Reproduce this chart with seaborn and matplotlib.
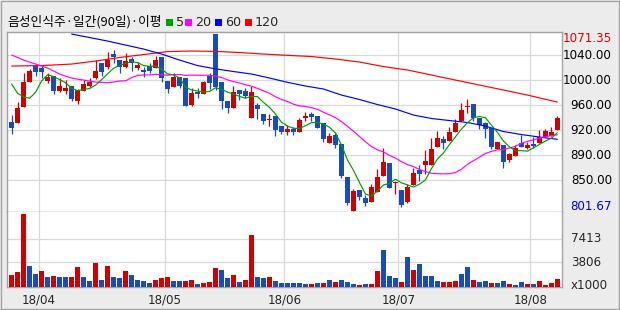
import numpy as np
import pandas as pd
import matplotlib
matplotlib.use("Agg")
import matplotlib.pyplot as plt
import seaborn as sns
from matplotlib.patches import Rectangle

# ---------------- data ----------------
title = "음성인식주·일간(90일)·이평"
ma_names = ["5", "20", "60", "120"]

opens = [937.0, 936.0, 960.4, 998.5, 1022.5, 1019.4, 999.6, 1007.7, 984.3, 984.3,
         992.0, 969.5, 984.8, 992.0, 1004.6, 1027.1, 1021.4, 1040.8, 1031.6, 1021.4,
         1032.7, 1019.9, 1016.4, 1022.5, 1019.9, 1036.7, 1000.1, 990.9, 1006.2, 1004.6,
         963.0, 983.3, 980.2, 1007.2, 1071.3, 998.5, 969.5, 958.8, 985.9, 984.3,
         943.6, 963.0, 949.2, 939.6, 946.2, 930.9, 921.3, 926.8, 922.2, 943.6,
         949.2, 946.2, 935.0, 905.4, 917.2, 903.5, 853.6, 801.7, 833.3, 821.5,
         815.4, 830.7, 855.1, 874.0, 843.5, 833.3, 815.4, 840.4, 863.8, 871.4,
         871.4, 899.3, 911.1, 908.0, 922.2, 939.0, 959.5, 964.5, 943.6, 935.0,
         927.4, 895.8, 901.9, 879.0, 885.1, 905.4, 896.9, 903.5, 904.5, 914.6,
         915.7, 924.8]
highs = [947.7, 967.5, 1012.3, 1017.9, 1022.5, 1024.5, 1012.3, 1007.7, 1004.2, 1000.7,
         992.0, 987.8, 1001.1, 1004.2, 1031.6, 1027.1, 1043.4, 1046.9, 1031.6, 1041.9,
         1036.7, 1028.6, 1020.5, 1026.6, 1037.7, 1036.7, 1000.1, 1011.3, 1006.2, 1004.6,
         988.9, 988.5, 1000.1, 1011.3, 1071.35, 998.5, 969.5, 992.0, 985.9, 988.5,
         992.0, 966.5, 949.2, 949.2, 946.2, 930.9, 932.4, 929.9, 942.7, 952.3,
         952.3, 946.2, 935.0, 919.8, 919.8, 903.5, 853.6, 834.3, 833.3, 825.6,
         842.4, 864.8, 897.8, 874.0, 847.5, 833.3, 842.4, 866.4, 871.4, 894.3,
         912.1, 923.3, 915.7, 929.4, 941.1, 966.5, 972.1, 964.5, 943.6, 937.5,
         927.4, 906.0, 901.9, 890.2, 901.5, 917.2, 907.0, 913.7, 924.8, 925.9,
         929.9, 946.2]
lows = [919.2, 936.0, 960.4, 998.5, 1007.7, 1004.6, 997.0, 980.2, 982.8, 979.3,
        969.5, 964.5, 984.8, 990.9, 1003.1, 1007.7, 1017.9, 1027.5, 1012.3, 1019.9,
        1015.3, 1016.4, 1005.2, 1011.3, 1019.9, 998.5, 981.7, 990.9, 989.4, 961.9,
        961.9, 974.1, 980.2, 987.4, 985.9, 957.3, 951.2, 958.8, 970.6, 973.2,
        943.6, 942.1, 934.4, 931.4, 916.1, 919.2, 917.2, 917.2, 922.2, 939.0,
        939.0, 927.4, 907.0, 904.5, 896.9, 851.1, 810.4, 801.67, 818.0, 808.8,
        815.4, 830.7, 855.1, 835.9, 827.2, 807.8, 813.0, 840.4, 847.5, 857.7,
        871.4, 899.3, 895.4, 908.0, 922.2, 939.0, 950.3, 939.0, 926.8, 912.2,
        895.4, 895.8, 867.3, 876.4, 885.1, 899.3, 895.4, 896.9, 904.5, 914.6,
        915.7, 924.8]
closes = [928.3, 958.4, 998.1, 1014.4, 1013.8, 1013.8, 1005.7, 984.3, 992.0, 988.9,
          972.6, 985.9, 995.0, 998.5, 1014.9, 1013.8, 1031.2, 1036.7, 1021.4, 1029.7,
          1026.6, 1024.5, 1013.8, 1015.3, 1031.6, 1004.6, 987.4, 1006.2, 992.4, 961.9,
          981.7, 979.8, 998.1, 997.0, 990.0, 969.5, 958.8, 982.8, 979.8, 976.7,
          982.8, 956.9, 938.6, 942.1, 924.8, 921.8, 926.8, 922.2, 940.1, 946.2,
          945.1, 927.4, 911.1, 915.7, 901.9, 854.6, 813.0, 831.7, 823.0, 813.0,
          838.3, 853.6, 876.0, 835.9, 845.0, 810.4, 838.3, 858.7, 857.7, 877.5,
          895.8, 912.1, 905.4, 921.8, 936.0, 955.3, 961.0, 942.7, 932.4, 926.8,
          899.3, 906.0, 876.4, 887.7, 897.4, 899.3, 901.9, 900.9, 914.6, 922.8,
          921.8, 942.7]

ma5 = [995.0, 980.8, 975.6, 973.2, 982.6, 999.7, 1009.2, 1006.4, 1001.9, 996.9,
       988.7, 984.7, 986.9, 988.2, 993.4, 1001.6, 1010.7, 1019.0, 1023.6, 1026.6,
       1029.1, 1027.8, 1023.2, 1022.0, 1022.4, 1018.0, 1010.5, 1009.0, 1004.4, 990.5,
       985.9, 984.4, 982.8, 983.7, 989.3, 986.9, 982.7, 979.6, 976.2, 973.5,
       976.2, 975.8, 967.0, 959.4, 949.0, 936.8, 930.8, 927.5, 927.1, 931.4,
       936.1, 936.2, 934.0, 929.1, 920.2, 902.1, 879.3, 863.4, 844.8, 827.1,
       823.8, 831.9, 840.8, 843.4, 849.8, 844.2, 841.1, 837.7, 842.0, 848.5,
       865.6, 880.4, 889.7, 902.5, 914.2, 926.1, 935.9, 943.4, 945.5, 943.6,
       932.4, 921.4, 908.2, 899.2, 893.4, 893.4, 892.5, 897.4, 902.8, 907.9,
       912.4, 920.6]
ma20 = [1039.3, 1035.5, 1031.6, 1028.5, 1025.5, 1022.5, 1019.4, 1015.0, 1010.3, 1007.0,
        1004.2, 1002.5, 1001.1, 999.5, 998.1, 997.5, 997.0, 998.0, 999.6, 999.9,
        1004.8, 1008.1, 1008.9, 1008.9, 1009.8, 1009.4, 1008.4, 1009.5, 1009.6, 1008.2,
        1008.7, 1008.4, 1008.5, 1008.4, 1007.2, 1005.0, 1001.4, 998.7, 996.6, 993.9,
        991.7, 988.4, 984.6, 980.9, 975.6, 971.5, 968.4, 964.2, 961.6, 960.8,
        959.0, 956.4, 952.0, 948.0, 943.6, 937.8, 930.5, 923.0, 915.1, 906.9,
        899.7, 894.6, 891.4, 886.1, 882.1, 876.6, 872.1, 869.0, 864.8, 861.4,
        858.9, 858.2, 857.9, 858.2, 859.9, 864.9, 872.3, 877.9, 883.3, 889.0,
        892.1, 894.7, 894.7, 897.3, 899.9, 904.4, 907.6, 909.7, 912.5, 914.8,
        916.1, 917.6]
ma60_idx = [10, 13, 16, 19, 22, 25, 28, 31, 34, 37, 40, 43, 46, 49, 52, 55, 58, 61,
            64, 67, 70, 73, 76, 79, 82, 85, 88, 91]
ma60_val = [1071.3, 1066.0, 1060.6, 1054.5, 1048.4, 1040.8, 1031.6, 1023.2, 1018.2,
            1014.1, 1010.3, 1004.2, 997.6, 992.0, 987.4, 978.2, 971.4, 963.7, 956.9,
            947.7, 942.4, 939.3, 936.3, 930.9, 922.5, 917.9, 914.1, 910.6]
ma120_idx = [0, 5, 10, 14, 18, 22, 26, 30, 34, 38, 42, 46, 50, 54, 58, 62, 66, 70,
             74, 78, 82, 86, 91]
ma120_val = [1022.5, 1023.2, 1025.5, 1030.1, 1035.5, 1040.0, 1044.6, 1045.4, 1044.9,
             1043.1, 1040.8, 1038.8, 1037.0, 1033.2, 1028.6, 1021.7, 1016.4, 1008.8,
             1001.1, 993.5, 985.9, 978.2, 967.5]

volume = [1872, 2329, 11156, 3242, 2024, 2481, 1568, 1720, 1568, 1560,
          1590, 3090, 1568, 959, 3698, 1111, 3242, 1568, 1416, 2481,
          1872, 1111, 959, 654, 1111, 1416, 1568, 959, 950, 980,
          1111, 502, 654, 807, 2937, 2633, 1416, 1872, 807, 1111,
          7960, 1568, 1416, 1568, 959, 654, 640, 620, 610, 502,
          490, 654, 640, 1111, 807, 1111, 807, 502, 350, 502,
          490, 2481, 5677, 1720, 1416, 807, 4612, 2633, 3546, 1720,
          1710, 959, 807, 800, 959, 2024, 3090, 1111, 807, 959,
          654, 640, 959, 502, 350, 807, 502, 490, 959, 350,
          654, 1263]
# R = volume rose vs previous day (red), B = fell (blue)
volume_dir = ("RRRBBRBRBBRRBBRBRBBRBBBBRRRBBRRBRRRBBRBRRBBRBBBB"
              "BBRBRBRBBBRBRRBBBRBRBBBBRRRBBRBBRBBRBBRBRR")

month_first_idx = [5, 26, 46, 65, 87]
month_labels = ["18/04", "18/05", "18/06", "18/07", "18/08"]

price_max, price_min = 1071.35, 801.67
price_grid = [848.5, 886.65, 924.8, 962.95, 1001.1, 1039.25]
vol_ticks = [3806, 7413]
vol_unit = "x1000"

# ---------------- styling ----------------
sns.set_theme(style="white")
plt.rcParams['font.family'] = ['Noto Sans CJK KR', 'DejaVu Sans']
NARROW = ['Liberation Sans Narrow', 'DejaVu Sans']

RED = '#d10000'
BLUE = '#1a4cb5'
GRID = '#d9d9d9'
FRAME = '#a3a3a3'

W, H = 620, 310
fig = plt.figure(figsize=(W / 100, H / 100), dpi=100, facecolor='#ececec')


def fx(px):
    return px / W


def fy(py):
    return 1 - py / H


L, R = 7.3, 562.3
T, M, B = 31.7, 212.3, 287.3
ax = fig.add_axes([fx(L), fy(M), fx(R) - fx(L), fy(T) - fy(M)])
axv = fig.add_axes([fx(L), fy(B), fx(R) - fx(L), fy(M) - fy(B)], sharex=ax)

n = len(closes)
idx = np.arange(n)
o = np.array(opens); c = np.array(closes)
hi = np.array(highs); lo = np.array(lows)
up = c >= o
col = np.where(up, RED, BLUE)

# wicks and bodies
ax.vlines(idx, lo, hi, colors=col, lw=0.9, zorder=2)
body_bottom = np.minimum(o, c)
body_h = np.maximum(np.abs(c - o), 1.2)
ax.bar(idx, body_h, bottom=body_bottom, width=0.78, color=col, lw=0, zorder=3)

# moving averages
df5 = pd.DataFrame({'i': idx, 'v': ma5})
df20 = pd.DataFrame({'i': idx, 'v': ma20})
df60 = pd.DataFrame({'i': ma60_idx, 'v': ma60_val})
df120 = pd.DataFrame({'i': ma120_idx, 'v': ma120_val})
for d, cc in [(df120, '#ff0000'), (df60, '#0000ff'), (df20, '#ff00ff'), (df5, '#009c00')]:
    sns.lineplot(data=d, x='i', y='v', ax=ax, color=cc, lw=0.85, estimator=None,
                 legend=False, zorder=4)

ax.set_xlim(-0.72, 91.83)
ax.set_ylim(799.2, 1074.9)
ax.set_yticks(price_grid)
ax.set_xticks([m - 0.5 for m in month_first_idx])
ax.grid(True, color=GRID, lw=0.9, zorder=0)
ax.tick_params(left=False, bottom=False, labelleft=False, labelbottom=False)
ax.set_xlabel(''); ax.set_ylabel('')
ax.set_facecolor('white')
for s in ax.spines.values():
    s.set_color(FRAME); s.set_linewidth(1.0)
ax.spines['bottom'].set_color('#8c8c8c')

# price labels on the right
lab_x = (612 - L) / (R - L)
tr = ax.get_yaxis_transform()
for v in price_grid:
    ax.text(lab_x, v, f"{round(v, -1):.2f}", transform=tr, ha='right', va='center',
            fontsize=8.6, color='black', family=NARROW, clip_on=False)
ax.annotate(f"{price_max:.2f}", xy=(lab_x, price_max), xycoords=tr, xytext=(0, -3),
            textcoords='offset points', ha='right', va='center', fontsize=8.6,
            color='#e00000', family=NARROW, annotation_clip=False)
ax.annotate(f"{price_min:.2f}", xy=(lab_x, price_min), xycoords=tr, xytext=(0, 3),
            textcoords='offset points', ha='right', va='center', fontsize=8.6,
            color='#0000dd', family=NARROW, annotation_clip=False)

# volume
vcol = [RED if ch == 'R' else BLUE for ch in volume_dir]
axv.bar(idx, volume, width=0.78, color=vcol, lw=0, zorder=3)
axv.set_ylim(0, 11415)
axv.set_yticks(vol_ticks)
axv.grid(True, color=GRID, lw=0.9, zorder=0)
axv.set_facecolor('white')
axv.tick_params(left=False, bottom=False, labelleft=False, labelbottom=False)
axv.set_xticks([m - 0.5 for m in month_first_idx])
axv.set_xlabel(''); axv.set_ylabel('')
for s in axv.spines.values():
    s.set_color(FRAME); s.set_linewidth(1.0)
axv.spines['top'].set_visible(False)

# month labels below the volume panel
trx = axv.get_xaxis_transform()
for m, lab in zip(month_first_idx, month_labels):
    axv.annotate(lab, xy=(m - 0.5, 0), xycoords=trx, xytext=(0, -9.5),
                 textcoords='offset points', ha='center', va='center', fontsize=8.6,
                 family=NARROW, annotation_clip=False)

vlab_x = (571 - L) / (R - L)
trv = axv.get_yaxis_transform()
for v in vol_ticks:
    axv.text(vlab_x, v, f"{v}", transform=trv, ha='left', va='center', fontsize=8.6,
             family=NARROW, clip_on=False)
axv.annotate(vol_unit, xy=(vlab_x, 0), xycoords=trv, xytext=(0, 1),
             textcoords='offset points', ha='left', va='center', fontsize=8.6,
             family=NARROW, annotation_clip=False)

# header: title and MA legend
fig.text(fx(7), fy(22), title, ha='left', va='center', fontsize=9.2, color='black')
leg_x = [166, 185, 215, 245]
leg_c = ['#00a000', '#ff00ff', '#0000ff', '#ff0000']
for xx, cc, nm in zip(leg_x, leg_c, ma_names):
    fig.patches.append(Rectangle((fx(xx), fy(25.5)), fx(6.5), 6.5 / H,
                                 transform=fig.transFigure, color=cc, lw=0))
    fig.text(fx(xx + 10), fy(22), nm, ha='left', va='center', fontsize=9.2,
             family=NARROW)

# outer frame
fig.patches.append(Rectangle((fx(0.5), fy(308.5)), fx(618), 308 / H, transform=fig.transFigure,
                             fill=False, edgecolor=FRAME, lw=1.0))

fig.savefig("out.png", dpi=100, facecolor=fig.get_facecolor())
